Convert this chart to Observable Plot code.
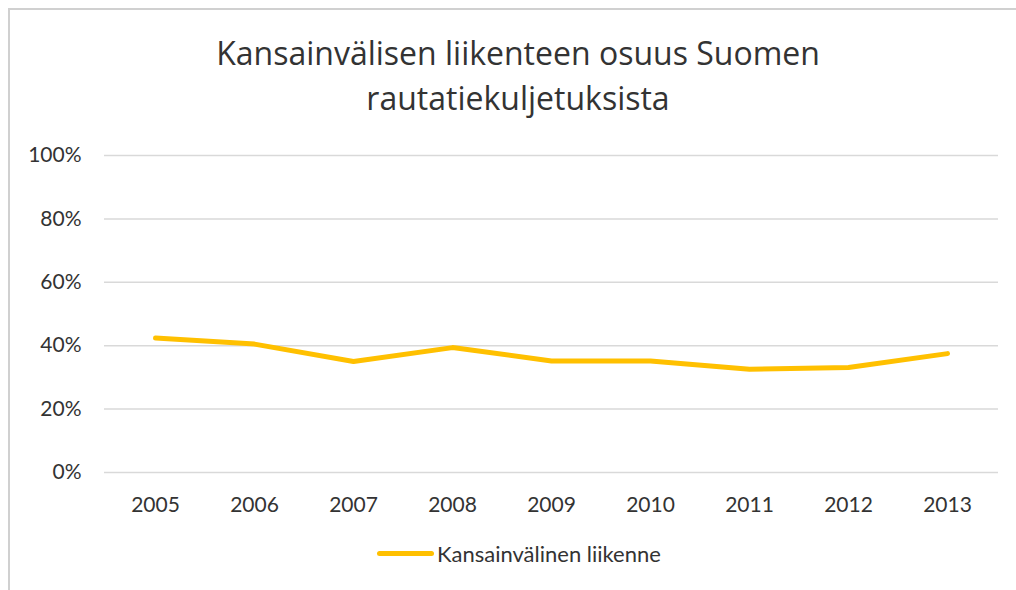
<!DOCTYPE html>
<html>
<head>
<meta charset="utf-8">
<script src="https://cdn.jsdelivr.net/npm/d3@7"></script>
<script src="https://cdn.jsdelivr.net/npm/@observablehq/plot@0.6"></script>
<style>
  html, body { margin: 0; padding: 0; background: #fff; }
  #wrap { position: relative; width: 1016px; height: 590px; overflow: hidden; font-family: Lato, "Open Sans", sans-serif; color: #333; }
  #frame { position: absolute; left: 8px; top: 8px; width: 1100px; height: 700px; border-left: 2px solid #d0d0d0; border-top: 2px solid #d0d0d0; box-sizing: border-box; }
  #title { position: absolute; left: 0; top: 0; width: 1016px; height: 128px; text-align: center; font-family: "Open Sans", Lato, sans-serif; font-size: 32px; line-height: 45px; padding-top: 30px; box-sizing: border-box; padding-left: 20px; }
  #chart { position: absolute; left: 0; top: 128px; }
  #legend { position: absolute; left: 377px; top: 540px; font-size: 22px; white-space: nowrap; display: flex; align-items: center; }
  #legend .sw { display: inline-block; width: 57px; height: 5px; background: #FFC000; border-radius: 3px; margin-right: 3px; }
</style>
</head>
<body>
<div id="wrap">
  <div id="frame"></div>
  <div id="title">Kansainvälisen liikenteen osuus Suomen<br>rautatiekuljetuksista</div>
  <div id="chart"></div>
  <div id="legend"><span class="sw"></span><span id="legtext"></span></div>
</div>
<script>
const years = ["2005","2006","2007","2008","2009","2010","2011","2012","2013"];
const shares = [42.4, 40.5, 35.0, 39.4, 35.2, 35.2, 32.6, 33.1, 37.5];
const yTicks = [0, 20, 40, 60, 80, 100];
const seriesName = "Kansainvälinen liikenne";

const data = years.map((y, i) => ({year: y, value: shares[i]}));

const plot = Plot.plot({
  width: 1016,
  height: 400,
  marginLeft: 104,
  marginRight: 18,
  marginTop: 27,
  marginBottom: 56,
  style: {fontFamily: "Lato, 'Open Sans', sans-serif", fontSize: "21px", color: "#333", background: "transparent"},
  x: {type: "point", domain: years, padding: 0.5, label: null},
  y: {domain: [0, 100], ticks: yTicks, label: null},
  marks: [
    Plot.ruleY(yTicks, {stroke: "#d9d9d9", strokeWidth: 1.5}),
    Plot.axisY({ticks: yTicks, tickSize: 0, tickPadding: 23, tickFormat: d => d + "%", label: null, fill: "#333"}),
    Plot.axisX({tickSize: 0, tickPadding: 25, label: null, fill: "#333"}),
    Plot.line(data, {x: "year", y: "value", stroke: "#FFC000", strokeWidth: 5, strokeLinecap: "round", strokeLinejoin: "round"})
  ]
});
document.getElementById("chart").appendChild(plot);
document.getElementById("legtext").textContent = seriesName;
</script>
</body>
</html>
